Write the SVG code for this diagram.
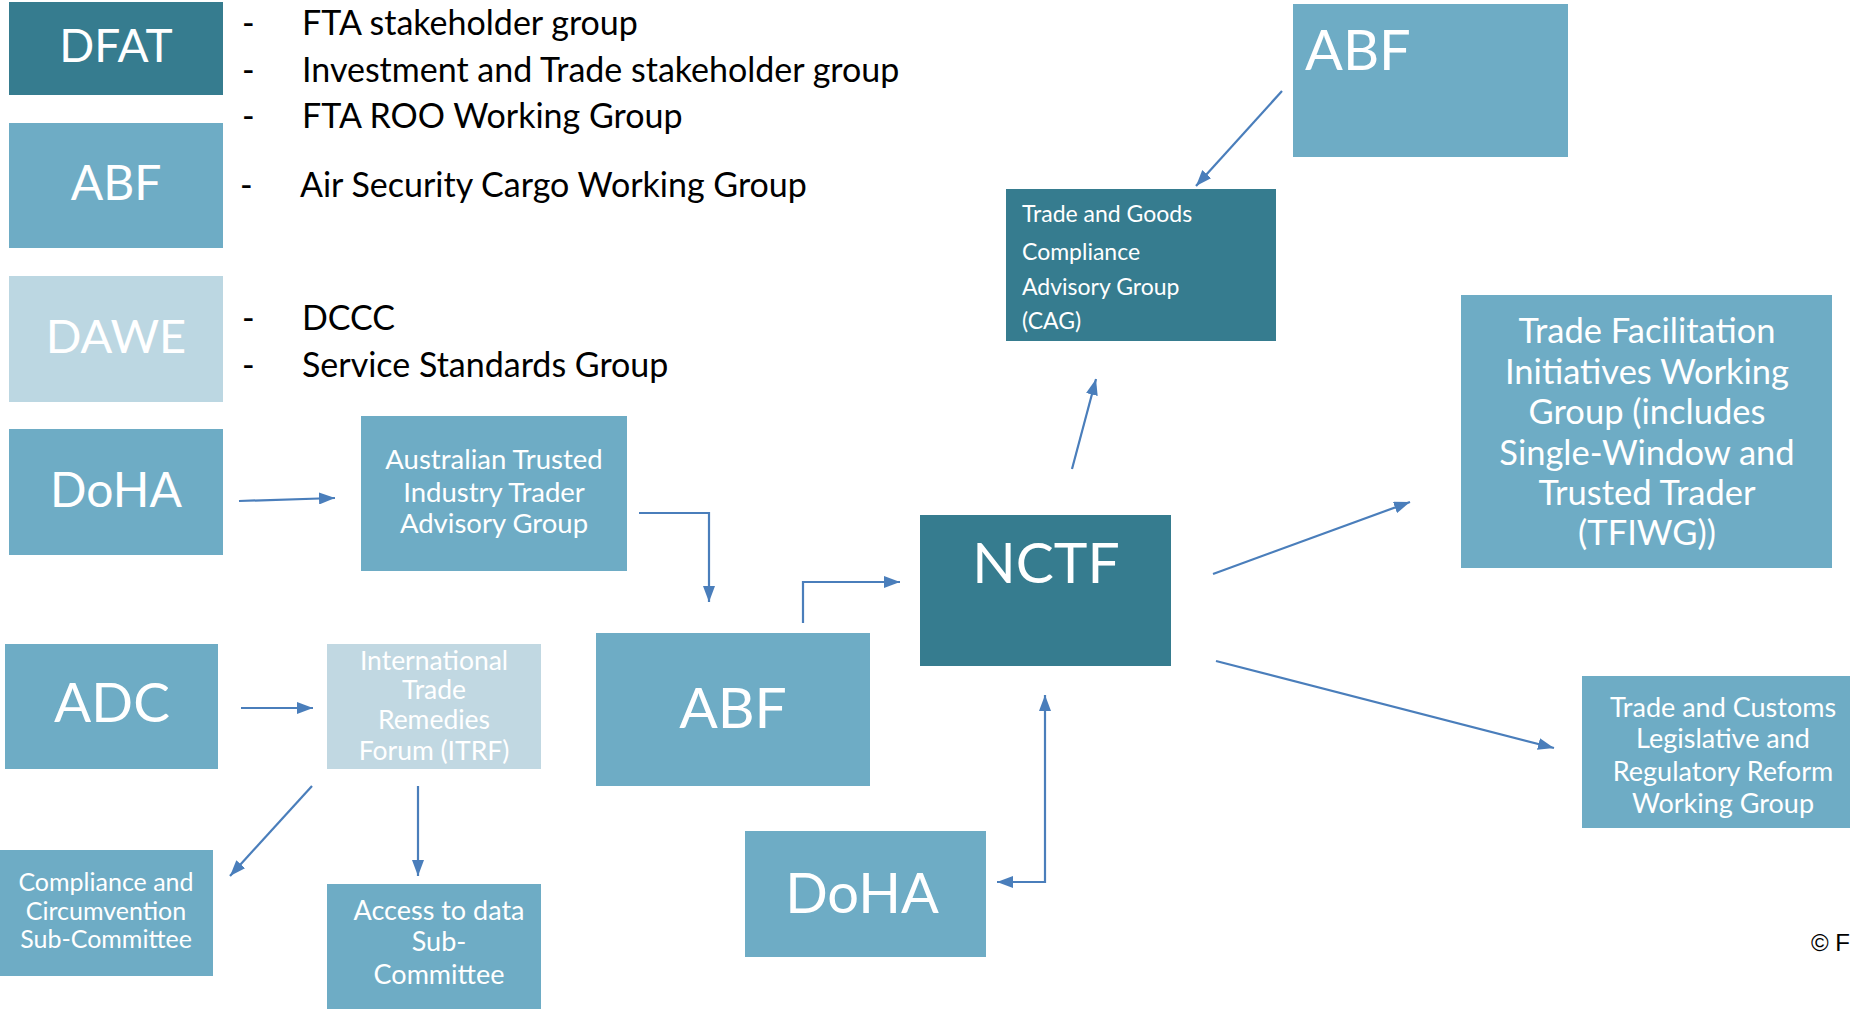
<svg xmlns="http://www.w3.org/2000/svg" width="1850" height="1009" viewBox="0 0 1850 1009">
<defs>
<style>
.dark{fill:#367C8F}
.mid{fill:#6EACC5}
.light{fill:#BCD7E2}
text{font-family:Lato,"Open Sans","Liberation Sans",sans-serif}
.w{fill:#FFFFFF}
.b{fill:#000000}
.c{text-anchor:middle}
.l{font-size:34px}
.con{fill:none;stroke:#4A7EBB;stroke-width:2.2}
</style>
<marker id="a" viewBox="0 0 16 12" refX="16" refY="6" markerWidth="16" markerHeight="12" markerUnits="userSpaceOnUse" orient="auto-start-reverse">
<path d="M0,0 L16,6 L0,12 z" fill="#4A7EBB"/>
</marker>
</defs>
<rect width="1850" height="1009" fill="#FFFFFF"/>

<g id="dfat">
<rect class="dark" x="9" y="2" width="214" height="93"/>
<text class="w c" x="116" y="62" font-size="46">DFAT</text>
</g>
<g id="dfat-list">
<text class="b l" x="242" y="35">-</text>
<text class="b l" x="302" y="35">FTA stakeholder group</text>
<text class="b l" x="242" y="82">-</text>
<text class="b l" x="302" y="82">Investment and Trade stakeholder group</text>
<text class="b l" x="242" y="128">-</text>
<text class="b l" x="302" y="128">FTA ROO Working Group</text>
</g>
<g id="abf-left">
<rect class="mid" x="9" y="123" width="214" height="125"/>
<text class="w c" x="116" y="200" font-size="48">ABF</text>
</g>
<g id="abf-list">
<text class="b l" x="240" y="197">-</text>
<text class="b l" x="300" y="197">Air Security Cargo Working Group</text>
</g>
<g id="dawe">
<rect class="light" x="9" y="276" width="214" height="126"/>
<text class="w c" x="116" y="353" font-size="47">DAWE</text>
</g>
<g id="dawe-list">
<text class="b l" x="242" y="330">-</text>
<text class="b l" x="302" y="330">DCCC</text>
<text class="b l" x="242" y="377">-</text>
<text class="b l" x="302" y="377">Service Standards Group</text>
</g>
<g id="doha-left">
<rect class="mid" x="9" y="429" width="214" height="126"/>
<text class="w c" x="116" y="507" font-size="48">DoHA</text>
</g>
<g id="atitag">
<rect class="mid" x="361" y="416" width="266" height="155"/>
<text class="w c" x="494" y="469" font-size="27.5">Australian Trusted</text>
<text class="w c" x="494" y="502" font-size="27.5">Industry Trader</text>
<text class="w c" x="494" y="533" font-size="27.5">Advisory Group</text>
</g>
<g id="adc">
<rect class="mid" x="5" y="644" width="213" height="125"/>
<text class="w c" x="112" y="722" font-size="55">ADC</text>
</g>
<g id="itrf">
<rect fill="#C1D8E2" x="327" y="644" width="214" height="125"/>
<text class="w c" x="434" y="670" font-size="26.5">International</text>
<text class="w c" x="434" y="699" font-size="26.5">Trade</text>
<text class="w c" x="434" y="729" font-size="26.5">Remedies</text>
<text class="w c" x="434" y="760" font-size="26.5">Forum (ITRF)</text>
</g>
<g id="abf-center">
<rect class="mid" x="596" y="633" width="274" height="153"/>
<text class="w c" x="733" y="728" font-size="57">ABF</text>
</g>
<g id="compliance">
<rect class="mid" x="0" y="850" width="213" height="126"/>
<text class="w c" x="106" y="891" font-size="25">Compliance and</text>
<text class="w c" x="106" y="920" font-size="25">Circumvention</text>
<text class="w c" x="106" y="948" font-size="25">Sub-Committee</text>
</g>
<g id="access">
<rect class="mid" x="327" y="884" width="214" height="125"/>
<text class="w c" x="439" y="920" font-size="27">Access to data</text>
<text class="w c" x="439" y="951" font-size="27">Sub-</text>
<text class="w c" x="439" y="984" font-size="27">Committee</text>
</g>
<g id="doha-bottom">
<rect class="mid" x="745" y="831" width="241" height="126"/>
<text class="w c" x="862" y="913" font-size="56">DoHA</text>
</g>
<g id="nctf">
<rect class="dark" x="920" y="515" width="251" height="151"/>
<text class="w c" x="1046" y="583" font-size="57">NCTF</text>
</g>
<g id="abf-top">
<rect class="mid" x="1293" y="4" width="275" height="153"/>
<text class="w" x="1305" y="70" font-size="56">ABF</text>
</g>
<g id="cag">
<rect class="dark" x="1006" y="189" width="270" height="152"/>
<text class="w" x="1022" y="222" font-size="23">Trade and Goods</text>
<text class="w" x="1022" y="260" font-size="23">Compliance</text>
<text class="w" x="1022" y="295" font-size="23">Advisory Group</text>
<text class="w" x="1022" y="329" font-size="23">(CAG)</text>
</g>
<g id="tfiwg">
<rect class="mid" x="1461" y="295" width="371" height="273"/>
<text class="w c" x="1647" y="343" font-size="34.5">Trade Facilitation</text>
<text class="w c" x="1647" y="384" font-size="34.5">Initiatives Working</text>
<text class="w c" x="1647" y="424" font-size="34.5">Group (includes</text>
<text class="w c" x="1647" y="465" font-size="34.5">Single-Window and</text>
<text class="w c" x="1647" y="505" font-size="34.5">Trusted Trader</text>
<text class="w c" x="1647" y="545" font-size="34.5">(TFIWG))</text>
</g>
<g id="tclrr">
<rect class="mid" x="1582" y="676" width="268" height="152"/>
<text class="w c" x="1723" y="717" font-size="27">Trade and Customs</text>
<text class="w c" x="1723" y="748" font-size="27">Legislative and</text>
<text class="w c" x="1723" y="781" font-size="27">Regulatory Reform</text>
<text class="w c" x="1723" y="813" font-size="27">Working Group</text>
</g>
<g id="copyright">
<text class="b" x="1811" y="951" font-size="24" style="font-family:'Liberation Sans',sans-serif">© F</text>
</g>

<g id="connectors">
<path class="con" d="M1282,91 L1196,186" marker-end="url(#a)"/>
<path class="con" d="M1072,469 L1096,379" marker-end="url(#a)"/>
<path class="con" d="M1213,574 L1410,502" marker-end="url(#a)"/>
<path class="con" d="M1216,661 L1554,748" marker-end="url(#a)"/>
<path class="con" d="M997,882 L1045,882 L1045,695" marker-start="url(#a)" marker-end="url(#a)"/>
<path class="con" d="M803,623 L803,582 L900,582" marker-end="url(#a)"/>
<path class="con" d="M639,513 L709,513 L709,602" marker-end="url(#a)"/>
<path class="con" d="M239,501 L335,498" marker-end="url(#a)"/>
<path class="con" d="M241,708 L313,708" marker-end="url(#a)"/>
<path class="con" d="M312,786 L230,876" marker-end="url(#a)"/>
<path class="con" d="M418,786 L418,876" marker-end="url(#a)"/>
</g>
</svg>
